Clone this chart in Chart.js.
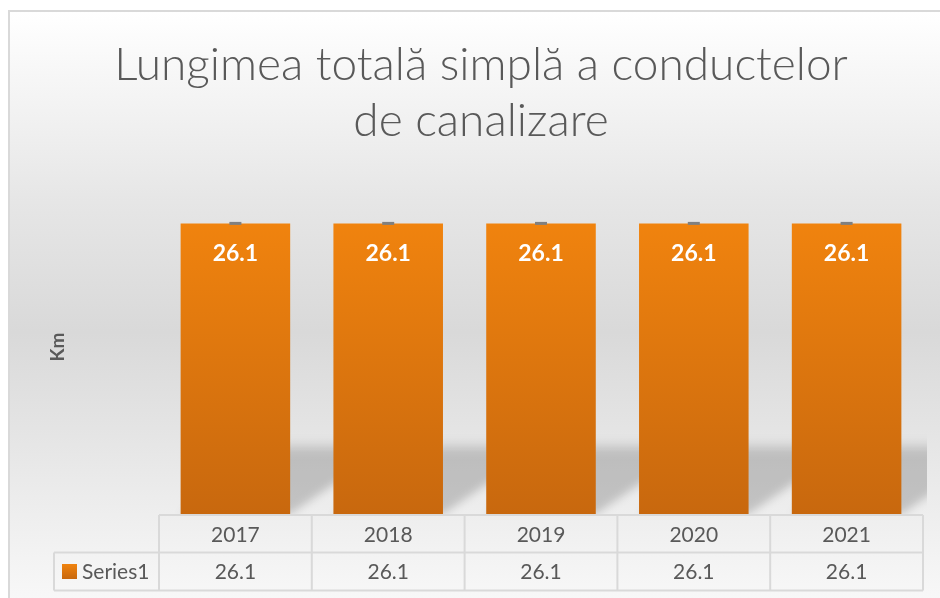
<!DOCTYPE html>
<html>
<head>
<meta charset="utf-8">
<script src="https://cdn.jsdelivr.net/npm/chart.js@4.4.1/dist/chart.umd.min.js"></script>
<style>
  html, body { margin: 0; padding: 0; background: #ffffff; width: 940px; height: 598px; overflow: hidden; }
  #frame {
    position: absolute; left: 8px; top: 10px; width: 960px; height: 620px;
    border: 2px solid #d9d9d9; box-sizing: border-box;
    background: linear-gradient(to bottom, #ffffff 0px, #e6e6e6 190px, #d9d9d9 320px, #f8f8f8 590px);
  }
  #c { position: absolute; left: 0; top: 0; }
</style>
</head>
<body>
<div id="frame"></div>
<canvas id="c" width="940" height="598"></canvas>
<script>
const titleLines = ['Lungimea totală simplă a conductelor', 'de canalizare'];
const categories = ['2017', '2018', '2019', '2020', '2021'];
const seriesName = 'Series1';
const values = [26.1, 26.1, 26.1, 26.1, 26.1];
const yAxisTitle = 'Km';
const yMax = 30;

const FONT = 'Lato, "Open Sans", sans-serif';
const TEXT = '#595959';
const GRID = '#d9d9d9';

function orangeGradient(ctx, y0, y1) {
  const g = ctx.createLinearGradient(0, y0, 0, y1);
  g.addColorStop(0, '#F0830E');
  g.addColorStop(1, '#C8680E');
  return g;
}

const shadowPlugin = {
  id: 'barShadow',
  beforeDatasetsDraw(chart) {
    const ctx = chart.ctx;
    const area = chart.chartArea;
    const meta = chart.getDatasetMeta(0);
    ctx.save();
    ctx.beginPath();
    ctx.rect(area.left, area.top, area.right - area.left + 4, area.bottom - area.top);
    ctx.clip();
    ctx.filter = 'blur(4px)';
    meta.data.forEach(bar => {
      const half = bar.width / 2;
      const left = bar.x - half, right = bar.x + half;
      const b = bar.base;
      const h = 74, s = 108;
      const g = ctx.createLinearGradient(0, b - h, 0, b);
      g.addColorStop(0, 'rgba(0,0,0,0.0)');
      g.addColorStop(0.18, 'rgba(0,0,0,0.18)');
      g.addColorStop(1, 'rgba(0,0,0,0.18)');
      ctx.fillStyle = g;
      ctx.beginPath();
      ctx.moveTo(left, b);
      ctx.lineTo(right, b);
      ctx.lineTo(right + s, b - h);
      ctx.lineTo(left + s, b - h);
      ctx.closePath();
      ctx.fill();
    });
    ctx.restore();
  }
};

const labelPlugin = {
  id: 'barLabels',
  afterDatasetsDraw(chart) {
    const ctx = chart.ctx;
    const meta = chart.getDatasetMeta(0);
    ctx.save();
    meta.data.forEach((bar, i) => {
      ctx.fillStyle = '#808080';
      ctx.fillRect(bar.x - 6, bar.y - 1.5, 12, 3);
      ctx.fillStyle = '#ffffff';
      ctx.font = 'bold 23px ' + FONT;
      ctx.textAlign = 'center';
      ctx.textBaseline = 'middle';
      ctx.fillText(values[i].toFixed(1), bar.x, bar.y + 30);
    });
    ctx.restore();
  }
};

const tablePlugin = {
  id: 'dataTable',
  afterDraw(chart) {
    const ctx = chart.ctx;
    const area = chart.chartArea;
    const n = categories.length;
    const catW = (area.right - area.left) / n;
    const top = area.bottom + 1;
    const mid = top + 37.5;
    const bot = mid + 38;
    const legendLeft = 54;
    ctx.save();
    ctx.strokeStyle = GRID;
    ctx.lineWidth = 2;
    ctx.beginPath();
    ctx.moveTo(area.left, top); ctx.lineTo(area.right, top);
    ctx.moveTo(legendLeft, mid); ctx.lineTo(area.right, mid);
    ctx.moveTo(legendLeft, bot); ctx.lineTo(area.right, bot);
    for (let i = 0; i <= n; i++) {
      const x = area.left + i * catW;
      ctx.moveTo(x, top); ctx.lineTo(x, bot);
    }
    ctx.moveTo(legendLeft, mid); ctx.lineTo(legendLeft, bot);
    ctx.stroke();

    ctx.fillStyle = TEXT;
    ctx.font = '21px ' + FONT;
    ctx.textAlign = 'center';
    ctx.textBaseline = 'middle';
    const xs = chart.scales.x;
    categories.forEach((c, i) => {
      const x = xs.getPixelForValue(i);
      ctx.fillText(c, x, (top + mid) / 2 + 1);
      ctx.fillText(values[i].toFixed(1), x, (mid + bot) / 2 + 1);
    });
    const ky = (mid + bot) / 2 - 7.5;
    ctx.fillStyle = orangeGradient(ctx, ky, ky + 15);
    ctx.fillRect(62, ky, 15, 15);
    ctx.fillStyle = TEXT;
    ctx.textAlign = 'left';
    ctx.fillText(seriesName, 82, (mid + bot) / 2 + 1);
    ctx.restore();
  }
};

new Chart(document.getElementById('c'), {
  type: 'bar',
  data: {
    labels: categories,
    datasets: [{
      label: seriesName,
      data: values,
      backgroundColor: (c) => {
        const chart = c.chart;
        if (!chart.chartArea) return '#E07A0E';
        const y = chart.scales.y;
        return orangeGradient(chart.ctx, y.getPixelForValue(values[c.dataIndex] || 0), y.getPixelForValue(0));
      },
      borderWidth: 0,
      categoryPercentage: 1,
      barPercentage: 0.717
    }]
  },
  options: {
    responsive: false,
    devicePixelRatio: 1,
    animation: false,
    layout: { padding: { left: 39, right: 17, top: 0, bottom: 84 } },
    plugins: {
      legend: { display: false },
      tooltip: { enabled: false },
      title: {
        display: true,
        text: titleLines,
        color: TEXT,
        font: { family: FONT, size: 46, weight: '300', lineHeight: 1.217 },
        padding: { top: 37, bottom: 31 }
      }
    },
    scales: {
      x: { display: false },
      y: {
        display: true,
        min: 0, max: yMax,
        ticks: { display: false },
        grid: { display: false },
        border: { display: false },
        title: {
          display: true,
          text: yAxisTitle,
          color: TEXT,
          font: { family: FONT, size: 19, weight: 'bold', lineHeight: 1.2 },
          padding: { top: 7, bottom: 0 }
        },
        afterFit: (s) => { s.width = 120; }
      }
    }
  },
  plugins: [shadowPlugin, labelPlugin, tablePlugin]
});
</script>
</body>
</html>
